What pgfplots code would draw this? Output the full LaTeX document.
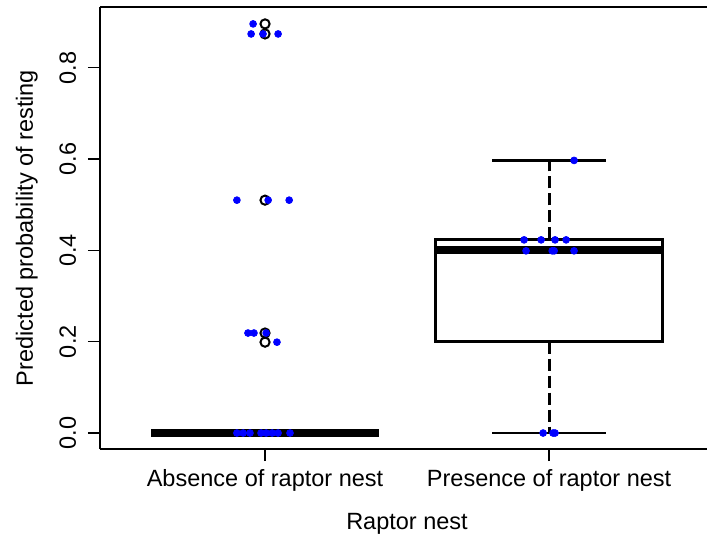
\documentclass[border=0pt]{standalone}
\usepackage{pgfplots}
\pgfplotsset{compat=1.18}
\usepgfplotslibrary{statistics}
\usepackage{fontspec}
\setmainfont{Liberation Sans}
\begin{document}
\fontsize{11.75}{14}\selectfont
\begin{tikzpicture}
\begin{axis}[
  scale only axis, width=303.5pt, height=221pt,
  xmin=0.419, xmax=2.556, ymin=-0.035, ymax=0.933,
  axis x line=box, axis y line=left,
  axis line style={-, line width=0.8pt, black},
  every outer y axis line/.append style={-},
  every outer x axis line/.append style={-},
  clip=false,
  xtick={1,2}, xticklabels={Absence of raptor nest, Presence of raptor nest},
  ytick={0,0.2,0.4,0.6,0.8}, yticklabels={0.0,0.2,0.4,0.6,0.8},
  xtick pos=left, ytick pos=left,
  tick align=outside, major tick length=6pt,
  tick style={black, line width=0.6pt},
  every tick label/.append style={font=\fontsize{11.75}{14}\selectfont, text=black},
  xticklabel style={anchor=base, inner sep=0pt},
  xticklabel shift=12.5pt,
  yticklabel style={rotate=90, anchor=base, inner sep=0pt},
  yticklabel shift=6pt,
  every axis x label/.style={at={(axis description cs:0.5058,-0.181)}, anchor=base, inner sep=0pt, font=\fontsize{11.75}{14}\selectfont},
  every axis y label/.style={at={(axis description cs:-0.1104,0.5)}, rotate=90, anchor=base, inner sep=0pt, font=\fontsize{11.75}{14}\selectfont},
  xlabel={Raptor nest},
  ylabel={Predicted probability of resting},
  boxplot/draw direction=y,
  boxplot/every box/.style={black, line width=1.35pt, solid},
  boxplot/every median/.style={black, line width=4pt, solid},
  boxplot/every whisker/.style={draw=none},
]
% dashed whiskers (presence): from quartiles to whisker ends
\addplot[black, line width=1.5pt, dash pattern=on 6pt off 2.5pt, mark=none] coordinates {(2,0.424) (2,0.597)};
\addplot[black, line width=1.5pt, dash pattern=on 6pt off 2.5pt, mark=none] coordinates {(2,0.2) (2,0)};
% Absence: all quantiles at 0
\addplot+[boxplot prepared={draw position=1, lower whisker=0, lower quartile=0, median=0,
    upper quartile=0, upper whisker=0, box extend=0.8, whisker extend=0.4},
  black, line width=1.35pt, solid, mark=none]
  coordinates {};
% Presence
\addplot+[boxplot prepared={draw position=2, lower whisker=0, lower quartile=0.2, median=0.4,
    upper quartile=0.424, upper whisker=0.597, box extend=0.8, whisker extend=0.4},
  black, line width=1.35pt, solid, mark=none]
  coordinates {};
% whisker caps (solid)
\addplot[black, line width=1.35pt, mark=none] coordinates {(1.8,0.597) (2.2,0.597)};
\addplot[black, line width=1.35pt, mark=none] coordinates {(1.8,0) (2.2,0)};
% outliers (absence)
\addplot[only marks, mark=o, mark size=2.3pt, mark options={black, line width=1pt}]
  coordinates {(1,0.896) (1,0.874) (1,0.510) (1,0.219) (1,0.199)};
% jittered observations
\addplot[only marks, mark=*, mark size=1.7pt, mark options={draw=blue, fill=blue}]
  coordinates {
  (0.958,0.896) (0.951,0.874) (0.993,0.874) (1.046,0.874)
  (0.901,0.510) (1.011,0.510) (1.085,0.510)
  (0.940,0.219) (0.961,0.219) (1.004,0.219) (1.042,0.199)
  (0.901,0) (0.923,0) (0.947,0) (0.986,0) (1.004,0) (1.025,0) (1.046,0) (1.088,0)
  (2.088,0.597)
  (1.912,0.423) (1.972,0.423) (2.021,0.423) (2.060,0.423)
  (1.919,0.399) (2.011,0.399) (2.018,0.399) (2.088,0.399)
  (1.979,0) (2.014,0) (2.021,0)
  };
\end{axis}
\pgfresetboundingbox
\path (-50pt,-44pt) rectangle (303.5pt,224.5pt);
\end{tikzpicture}
\end{document}
